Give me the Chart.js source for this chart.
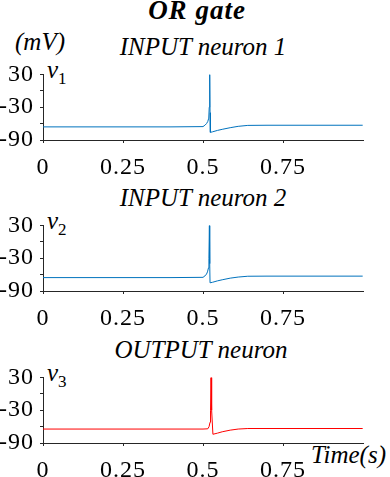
<!DOCTYPE html>
<html>
<head>
<meta charset="utf-8">
<script src="https://cdn.jsdelivr.net/npm/chart.js@4/dist/chart.umd.min.js"></script>
<style>
  body { margin: 0; background: #fff; }
  #wrap { position: relative; width: 390px; height: 477px; overflow: hidden; font-family: "Liberation Serif", "DejaVu Serif", serif; color: #000; }
  canvas { position: absolute; left: 0; }
  .txt { position: absolute; white-space: nowrap; font-size: 25px; line-height: 25px; font-style: italic; }
  .mid { transform: translateX(-50%); }
  sub { font-size: 17px; font-style: normal; vertical-align: -6px; line-height: 0; }
</style>
</head>
<body>
<div id="wrap">
  <div class="txt mid" style="left:197px; top:-3px; font-size:27px; line-height:27px; font-weight:bold; letter-spacing:1px;">OR gate</div>
  <div class="txt" style="left:15px; top:29px;">(mV)</div>

  <div class="txt mid" style="left:203px; top:34px;">INPUT neuron 1</div>
  <div class="txt mid" style="left:203px; top:185px;">INPUT neuron 2</div>
  <div class="txt mid" style="left:201px; top:337px;">OUTPUT neuron</div>

  <div class="txt" style="left:47px; top:57px;">v<sub>1</sub></div>
  <div class="txt" style="left:47px; top:208px;">v<sub>2</sub></div>
  <div class="txt" style="left:47px; top:360px;">v<sub>3</sub></div>

  <div class="txt" style="left:311px; top:442px;">Time(s)</div>

  <canvas id="c1" width="390" height="126" style="top:54px"></canvas>
  <canvas id="c2" width="390" height="126" style="top:205px"></canvas>
  <canvas id="c3" width="390" height="126" style="top:357px"></canvas>
</div>

<script>
// membrane potential traces (time in s, voltage in mV)
const t1 = [0, 0.1, 0.2, 0.3, 0.4, 0.5, 0.506, 0.511, 0.515, 0.518, 0.5195, 0.521, 0.522, 0.523, 0.53, 0.545, 0.56, 0.585, 0.61, 0.64, 0.7, 0.8, 0.9, 0.999];
const v1 = [-66, -66, -66, -66, -66, -65.5, -63, -60, -56, -50, -30, 30, -40, -76, -75, -72.5, -70.5, -67.5, -65, -63.3, -63, -63, -63, -63];

const t2 = [0, 0.1, 0.2, 0.3, 0.4, 0.5, 0.506, 0.511, 0.514, 0.517, 0.5185, 0.52, 0.521, 0.522, 0.53, 0.545, 0.56, 0.585, 0.61, 0.64, 0.7, 0.8, 0.9, 0.999];
const v2 = [-65.5, -65.5, -65.5, -65.5, -65.5, -65, -62.5, -59, -55, -48, -30, 30, -40, -75, -74, -71.5, -69.5, -66.5, -64.5, -63, -62.8, -62.8, -62.8, -62.8];

const t3 = [0, 0.1, 0.2, 0.3, 0.4, 0.5, 0.515, 0.519, 0.522, 0.5235, 0.525, 0.527, 0.531, 0.545, 0.56, 0.585, 0.61, 0.64, 0.7, 0.8, 0.9, 0.999];
const v3 = [-64.5, -64.5, -64.5, -64.5, -64.5, -64.5, -64, -60, -52, -30, 30, -30, -74, -72, -69.5, -66.5, -64.5, -63.5, -63.5, -63.5, -63.5, -63.5];

const xTicks = [0, 0.25, 0.5, 0.75];
const yTicks = [30, 0, -30, -60, -90];
const yLabeled = [30, -30, -90];

const axisColor = "#262626";
const tickFont = { family: '"Liberation Serif", serif', size: 24 };

// tick labels in the export are spread out a little
const spacing = {
  id: "spacing",
  beforeDraw: (chart) => { chart.ctx.letterSpacing = "1px"; }
};

function makeChart(id, ts, vs, color) {
  const pts = ts.map((t, i) => ({ x: t, y: vs[i] }));
  return new Chart(document.getElementById(id), {
    type: "line",
    data: {
      datasets: [{
        data: pts,
        borderColor: color,
        borderWidth: 1,
        pointRadius: 0,
        tension: 0,
        fill: false
      }]
    },
    plugins: [spacing],
    options: {
      responsive: false,
      animation: false,
      layout: { padding: { top: 10, right: 27, left: 0, bottom: 0 } },
      plugins: { legend: { display: false }, tooltip: { enabled: false } },
      scales: {
        x: {
          type: "linear",
          min: 0,
          max: 1,
          afterBuildTicks: (s) => { s.ticks = xTicks.map(v => ({ value: v })); },
          afterFit: (s) => { s.height = 40; },
          grid: { drawOnChartArea: false, drawTicks: true, tickLength: 3, color: axisColor },
          border: { display: true, color: axisColor, width: 1 },
          ticks: { font: tickFont, color: "#000", padding: 10, maxRotation: 0, autoSkip: false,
                   callback: (v) => String(v) }
        },
        y: {
          min: -90,
          max: 30,
          afterBuildTicks: (s) => { s.ticks = yTicks.map(v => ({ value: v })); },
          afterFit: (s) => { s.width = 43; },
          grid: { drawOnChartArea: false, drawTicks: true, tickLength: 3, color: axisColor },
          border: { display: true, color: axisColor, width: 1 },
          ticks: { font: tickFont, color: "#000", padding: 6, autoSkip: false,
                   callback: (v) => yLabeled.includes(v) ? String(v) : "" }
        }
      }
    }
  });
}

makeChart("c1", t1, v1, "#0072BD");
makeChart("c2", t2, v2, "#0072BD");
makeChart("c3", t3, v3, "#FF0000");
</script>
</body>
</html>
